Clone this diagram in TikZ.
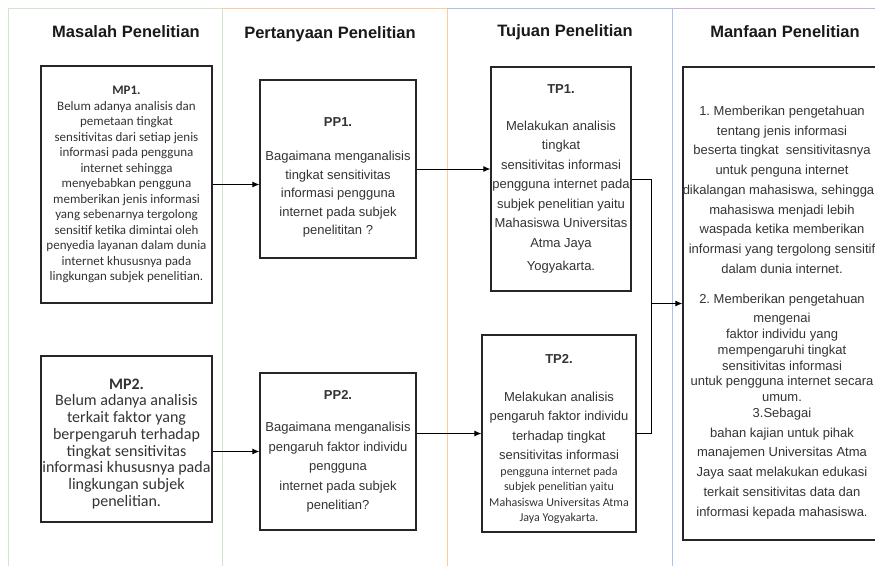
\documentclass[tikz,border=0pt]{standalone}
\usepackage{fontspec}
\setmainfont{Liberation Sans}
\newfontfamily\calibri{Carlito}
\usetikzlibrary{arrows.meta}
\definecolor{lanegreen}{HTML}{CFE6CC}
\definecolor{laneorange}{HTML}{FFCC99}
\definecolor{laneblue}{HTML}{A9C4EB}
\definecolor{lanepurple}{HTML}{CDB0DA}
\newcommand{\smallcal}{\calibri\fontsize{12}{14}\selectfont}
\frenchspacing

\begin{document}
\begin{tikzpicture}[x=1pt, y=-1pt, line width=1pt, >={Latex[length=7pt,width=6pt]},
  box/.style={draw=black!85, line width=1.2pt, align=center, inner sep=0pt, text=black!80},
  lanehead/.style={font=\fontsize{16.5}{20}\selectfont\bfseries, text=black!90}]
\useasboundingbox (0,0) rectangle (875,566);
\begin{scope}
\clip (0,0) rectangle (875,566);
\draw[lanegreen, line width=1pt] (8,566) -- (8,8) -- (222,8) -- (222,566);
\draw[laneorange, line width=1pt] (222,8) -- (447,8) -- (447,566);
\draw[laneblue, line width=1pt] (447,8) -- (672,8) -- (672,566);
\draw[lanepurple, line width=1pt] (672,8) -- (875,8);
\node[lanehead] (hmasalah) at (126,32) {Masalah Penelitian};
\node[lanehead] (hpertanyaan) at (330,34) {Pertanyaan Penelitian};
\node[lanehead] (htujuan) at (565,32) {Tujuan Penelitian};
\node[lanehead] (hmanfaat) at (785,32) {Manfaan Penelitian};
\node[box, minimum width=171, minimum height=237, font=\calibri\fontsize{13}{15.5}\selectfont] (mp1) at (126.5,184.5)
  {\textbf{MP1.}\\ Belum adanya analisis dan\\ pemetaan tingkat\\ sensitivitas dari setiap jenis\\ informasi pada pengguna\\ internet sehingga\\ menyebabkan pengguna\\ memberikan jenis informasi\\ yang sebenarnya tergolong\\ sensitif ketika dimintai oleh\\ penyedia layanan dalam dunia\\ internet khususnya pada\\ lingkungan subjek penelitian.};
\node[box, minimum width=171, minimum height=166, font=\calibri\fontsize{16}{16.7}\selectfont] (mp2) at (126.5,439)
  {\rule{0pt}{20pt}\textbf{MP2.}\\ Belum adanya analisis\\ terkait faktor yang\\ berpengaruh terhadap\\ tingkat sensitivitas\\ informasi khususnya pada\\ lingkungan subjek\\ penelitian.};
\node[box, minimum width=156, minimum height=178, font=\fontsize{13}{18.5}\selectfont] (pp1) at (338,169)
  {\rule{0pt}{26.5pt}\textbf{PP1.}\\[15.5pt] Bagaimana menganalisis\\ tingkat sensitivitas\\ informasi pengguna\\ internet pada subjek\\ penelititan ?};
\node[box, minimum width=156, minimum height=157, font=\fontsize{13}{19.5}\selectfont] (pp2) at (338,451.5)
  {\textbf{PP2.}\\[12.5pt] Bagaimana menganalisis\\ pengaruh faktor individu\\ pengguna\\ internet pada subjek\\ penelitian?};
\node[box, minimum width=140, minimum height=224, font=\fontsize{13}{19.5}\selectfont] (tp1) at (561,179)
  {\textbf{TP1.}\\[17pt] Melakukan analisis\\ tingkat\\ sensitivitas informasi\\ pengguna internet pada\\ subjek penelitian yaitu\\ Mahasiswa Universitas\\ Atma Jaya\\[4pt] Yogyakarta.};
\node[box, minimum width=154, minimum height=197, font=\fontsize{13}{19.3}\selectfont] (tp2) at (559,433.5)
  {\rule{0pt}{20pt}\textbf{TP2.}\\[18.7pt] Melakukan analisis\\ pengaruh faktor individu\\ terhadap tingkat\\ sensitivitas informasi\\[-3pt] {\smallcal pengguna internet pada}\\[-4pt] {\smallcal subjek penelitian yaitu}\\[-4pt] {\smallcal Mahasiswa Universitas Atma}\\[-4pt] {\smallcal Jaya Yogyakarta.}};
\node[box, minimum width=198, minimum height=473, font=\fontsize{13}{19.75}\selectfont] (manfaat) at (782,303.5)
  {\rule{0pt}{27pt}1. Memberikan pengetahuan\\ tentang jenis informasi\\ beserta tingkat\ \ sensitivitasnya\\ untuk penguna internet\\ \hspace*{-7pt}dikalangan mahasiswa, sehingga\\ mahasiswa menjadi lebih\\ waspada ketika memberikan\\ informasi yang tergolong sensitif\\ dalam dunia internet.\\[10pt] 2. Memberikan pengetahuan\\ mengenai\\[-4pt] faktor individu yang\\[-4pt] mempengaruhi tingkat\\[-4pt] sensitivitas informasi\\[-4pt] untuk pengguna internet secara\\[-4pt] umum.\\[-4pt] 3.Sebagai\\ bahan kajian untuk pihak\\ manajemen Universitas Atma\\ Jaya saat melakukan edukasi\\ terkait sensitivitas data dan\\ informasi kepada mahasiswa.};
\coordinate (join) at (651,303.5);
\draw[->] (mp1.east) -- (mp1.east -| pp1.west);
\draw[->] (pp1.east) -- (pp1.east -| tp1.west);
\draw[->] (mp2.east |- pp2.west) -- (pp2.west);
\draw[->] (pp2.east |- tp2.west) -- (tp2.west);
\draw (tp1.east) -| (join);
\draw (tp2.east) -| (join);
\draw[->] (join) -- (manfaat.west);
\end{scope}
\end{tikzpicture}
\end{document}
